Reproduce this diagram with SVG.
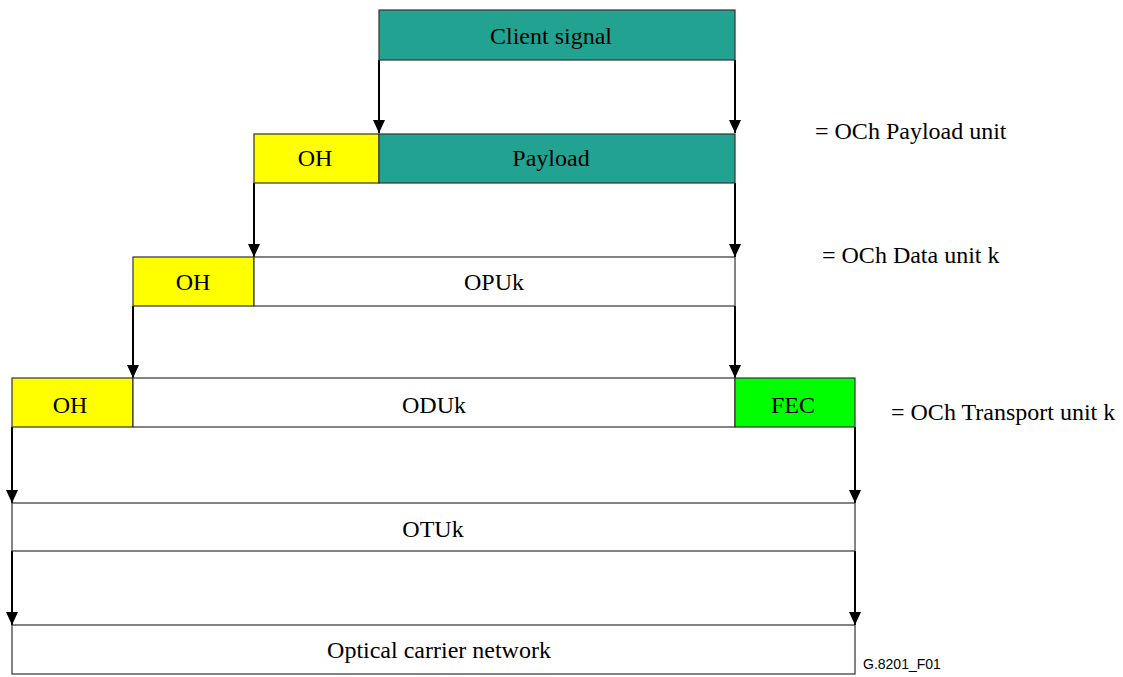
<svg xmlns="http://www.w3.org/2000/svg" width="1123" height="677" viewBox="0 0 1123 677">
<style>
.box{stroke:#333;stroke-width:1.2}
.teal{fill:#22A391}
.yel{fill:#FFFF00}
.grn{fill:#00FF00}
.wht{fill:#FFFFFF}
.t{font-family:"Liberation Serif",serif;font-size:24px;fill:#000;text-anchor:middle}
.lbl{font-family:"Liberation Serif",serif;font-size:24px;fill:#000}
.conn{stroke:#000;stroke-width:2;fill:none}
</style>
<defs>
<marker id="down" markerUnits="userSpaceOnUse" markerWidth="14" markerHeight="14" viewBox="0 0 14 14" refX="7" refY="13" orient="0">
<path d="M1,0 L13,0 L7,13 Z" fill="#000"/>
</marker>
</defs>
<g id="connectors">
<line class="conn" x1="379" y1="60" x2="379" y2="133" marker-end="url(#down)"/>
<line class="conn" x1="735" y1="60" x2="735" y2="133" marker-end="url(#down)"/>
<line class="conn" x1="254" y1="183" x2="254" y2="257" marker-end="url(#down)"/>
<line class="conn" x1="735" y1="183" x2="735" y2="257" marker-end="url(#down)"/>
<line class="conn" x1="133" y1="306" x2="133" y2="378" marker-end="url(#down)"/>
<line class="conn" x1="735" y1="306" x2="735" y2="378" marker-end="url(#down)"/>
<line class="conn" x1="12" y1="427" x2="12" y2="503" marker-end="url(#down)"/>
<line class="conn" x1="855" y1="427" x2="855" y2="503" marker-end="url(#down)"/>
<line class="conn" x1="12" y1="551" x2="12" y2="625" marker-end="url(#down)"/>
<line class="conn" x1="855" y1="551" x2="855" y2="625" marker-end="url(#down)"/>
</g>
<g id="client">
<rect class="box teal" x="379" y="10" width="356" height="50"/>
<text class="t" x="551" y="44">Client signal</text>
</g>
<g id="opu">
<rect class="box yel" x="254" y="134" width="125" height="49"/>
<text class="t" x="315" y="166">OH</text>
<rect class="box teal" x="379" y="134" width="356" height="49"/>
<text class="t" x="551" y="166">Payload</text>
</g>
<g id="odu">
<rect class="box yel" x="133" y="257" width="121" height="49"/>
<text class="t" x="193" y="290">OH</text>
<rect class="box wht" x="254" y="257" width="481" height="49"/>
<text class="t" x="494" y="290">OPUk</text>
</g>
<g id="otu">
<rect class="box yel" x="12" y="378" width="121" height="49"/>
<text class="t" x="70" y="413">OH</text>
<rect class="box wht" x="133" y="378" width="602" height="49"/>
<text class="t" x="434" y="413">ODUk</text>
<rect class="box grn" x="735" y="378" width="120" height="49"/>
<text class="t" x="793" y="413">FEC</text>
</g>
<g id="otuk">
<rect class="box wht" x="12" y="503" width="843" height="48"/>
<text class="t" x="433" y="537">OTUk</text>
</g>
<g id="ocn">
<rect class="box wht" x="12" y="625" width="843" height="49"/>
<text class="t" x="439" y="658">Optical carrier network</text>
</g>
<g id="labels">
<text class="lbl" x="815" y="139">= OCh Payload unit</text>
<text class="lbl" x="822" y="263">= OCh Data unit k</text>
<text class="lbl" x="891" y="420">= OCh Transport unit k</text>
<text x="863" y="669" style="font-family:'Liberation Sans',sans-serif;font-size:14px;fill:#000">G.8201_F01</text>
</g>
</svg>
